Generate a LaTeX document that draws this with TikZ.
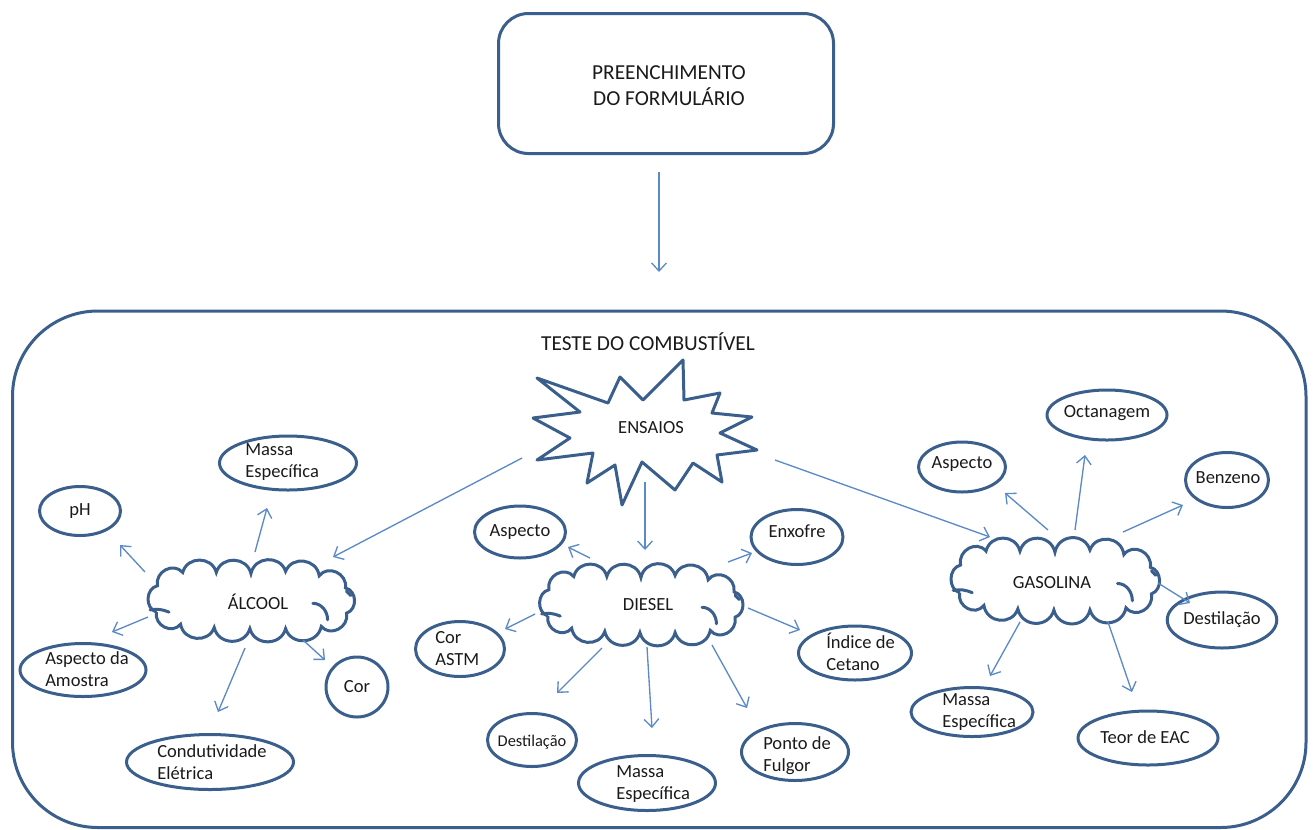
\documentclass[tikz,border=0pt]{standalone}
\usepackage{fontspec}
\setmainfont{Carlito}
\usetikzlibrary{shapes.geometric,arrows.meta}
\definecolor{boxblue}{HTML}{3B5F8C}
\definecolor{arrblue}{HTML}{5B8AC6}
\definecolor{ink}{HTML}{1A1A1A}

% cloud outline around the origin, about 210 x 76 units
\newcommand{\cloudoutline}{%
  \begin{scope}[xscale=1.05, yscale=1.1]
  \draw[outline, fill=white, line join=miter]
    (-91,11) to[puffto] (-90,-13) to[puffto] (-66,-25) to[puffto] (-34,-25)
    to[puffto] (-1,-24) to[puffto] (32,-26) to[puffto] (64,-22)
    to[puffto] (89,-11) to[puffto] (90,12) to[puffto] (66,24)
    to[puffto] (32,26) to[puffto] (-2,26) to[puffto] (-36,25)
    to[puffto] (-68,22) to[puffto] (-91,11);
  \draw[curl] (-97,9) to[bend left=15] (-79,11);
  \draw[curl] (58,3) .. controls (66,3) and (72,10) .. (72,18);
  \draw[curl] (90,-8) -- (94,-4);
  \end{scope}
}

\begin{document}
\begin{tikzpicture}[x=0.75pt,y=-0.75pt,
  outline/.style={draw=boxblue, line width=2.25pt},
  esize/.style n args={2}{minimum width=#1*0.75pt, minimum height=#2*0.75pt},
  lbl/.style={font=\fontsize{13.9}{16.5}\selectfont, text=ink, align=left, inner sep=0pt},
  bigtxt/.style={font=\fontsize{16}{19.3}\selectfont, text=ink, align=center, inner sep=0pt},
  bubble/.style={outline, ellipse, inner sep=0pt, lbl, align=center},
  puffto/.style={bend left=75, looseness=1.25},
  arr/.style={draw=arrblue, line width=1pt, -{Straight Barb[length=6pt,width=11pt]}},
  curl/.style={boxblue, line width=2.25pt, line cap=round},
]
\useasboundingbox (0,0) rectangle (1316,829);

% form header and main frame
\node[outline, rectangle, rounded corners=22.5pt, esize={335}{140}] (form) at (666,83.5) {};
\node[bigtxt] (formT) at (669,86) {PREENCHIMENTO\\DO FORMULÁRIO};
\coordinate (f1) at (659,172);
\coordinate (f2) at (659,272);
\draw[arr] (f1) -- (f2);

\node[outline, rectangle, rounded corners=64pt, esize={1293.5}{516.5}] (teste) at (659.25,569.25) {};
\node[bigtxt] (testeT) at (648,342) {TESTE DO COMBUSTÍVEL};

% burst with the tests
\draw[outline, fill=white, line join=round]
  (537,378) -- (608,403) -- (620,377) -- (643,400) -- (683,360) -- (684,400)
  -- (720,393) -- (712,413) -- (752,417) -- (720,433) -- (757,450) -- (717,455)
  -- (722,482) -- (693,463) -- (675,490) -- (642,462) -- (622,505) -- (615,465)
  -- (587,483) -- (593,453) -- (537,460) -- (570,438) -- (533,418) -- (580,412) -- cycle;
\node[lbl] (ens) at (651,428) {ENSAIOS};

% the three fuels
\begin{scope}[shift={(252,600)}] \cloudoutline \end{scope}
\node[lbl] (alc) at (258,602) {ÁLCOOL};
\begin{scope}[shift={(642,604)}, xscale=0.985] \cloudoutline \end{scope}
\node[lbl] (die) at (648,605) {DIESEL};
\begin{scope}[shift={(1056,580)}, xscale=1.01, yscale=1.05] \cloudoutline \end{scope}
\node[lbl] (gas) at (1052,583) {GASOLINA};

% alcohol tests
\node[bubble, esize={137}{54}] (aMassa) at (288,463) {};
\node[lbl, anchor=west] (aMassaT) at (245,462) {Massa\\Específica};
\node[bubble, esize={81}{49}] (aPh) at (80,511) {pH};
\node[bubble, esize={126}{53}] (aAsp) at (83,670) {};
\node[lbl, anchor=west] (aAspT) at (45,669) {Aspecto da\\Amostra};
\node[bubble, esize={62}{60}] (aCor) at (357,687) {Cor};
\node[bubble, esize={167}{55}] (aCond) at (210,762) {};
\node[lbl, anchor=west] (aCondT) at (157,762) {Condutividade\\Elétrica};

% diesel tests
\node[bubble, esize={91}{52}] (dAsp) at (520,532) {Aspecto};
\node[bubble, esize={92}{55}] (dEnx) at (797,537) {};
\node[lbl] (dEnxT) at (797,531) {Enxofre};
\node[bubble, esize={89}{55}] (dCor) at (460,649) {};
\node[lbl, anchor=west] (dCorT) at (435,649) {Cor\\ASTM};
\node[bubble, esize={89}{53}] (dDest) at (532,740) {};
\node[lbl, font=\fontsize{12.3}{14}\selectfont] (dDestT) at (532,742) {Destilação};
\node[bubble, esize={137}{55}] (dMassa) at (647,783) {};
\node[lbl, anchor=west] (dMassaT) at (616,784) {Massa\\Específica};
\node[bubble, esize={107}{57}] (dPonto) at (795,752) {};
\node[lbl, anchor=west] (dPontoT) at (763,756) {Ponto de\\Fulgor};
\node[bubble, esize={113}{54}] (dInd) at (855,653) {};
\node[lbl, anchor=west] (dIndT) at (826,652) {Índice de\\Cetano};

% petrol tests
\node[bubble, esize={87}{50}] (gAsp) at (962,467) {};
\node[lbl] (gAspT) at (962,464) {Aspecto};
\node[bubble, esize={120}{50}] (gOct) at (1107,415) {};
\node[lbl] (gOctT) at (1107,413) {Octanagem};
\node[bubble, esize={83}{55}] (gBenz) at (1227,480) {};
\node[lbl] (gBenzT) at (1228,478) {Benzeno};
\node[bubble, esize={92}{56}] (gDest) at (1222,620) {Destilação};
\node[bubble, esize={122}{49}] (gMassa) at (972,712) {};
\node[lbl, anchor=west] (gMassaT) at (942,712) {Massa\\Específica};
\node[bubble, esize={140}{54}] (gTeor) at (1148,738) {};
\node[lbl] (gTeorT) at (1145,737) {Teor de EAC};

% arrow ends
\coordinate (e1) at (522,458);  \coordinate (e2) at (333,557);
\coordinate (e3) at (775,460);  \coordinate (e4) at (990,537);
\coordinate (e5) at (645,482);  \coordinate (e6) at (645,550);

\coordinate (a1) at (255,552);  \coordinate (a1t) at (267,508);
\coordinate (a2) at (145,572);  \coordinate (a2t) at (120,545);
\coordinate (a3) at (148,617);  \coordinate (a3t) at (112,632);
\coordinate (a4) at (245,648);  \coordinate (a4t) at (218,712);
\coordinate (a5) at (303,640);  \coordinate (a5t) at (325,660);

\coordinate (d1) at (590,558);  \coordinate (d1t) at (568,547);
\coordinate (d2) at (728,562);  \coordinate (d2t) at (752,553);
\coordinate (d3) at (535,614);  \coordinate (d3t) at (505,629);
\coordinate (d4) at (602,648);  \coordinate (d4t) at (557,693);
\coordinate (d5) at (647,647);  \coordinate (d5t) at (652,728);
\coordinate (d6) at (712,645);  \coordinate (d6t) at (747,708);
\coordinate (d7) at (748,608);  \coordinate (d7t) at (800,630);

\coordinate (g1) at (1048,530); \coordinate (g1t) at (1005,493);
\coordinate (g2) at (1075,530); \coordinate (g2t) at (1085,455);
\coordinate (g3) at (1123,532); \coordinate (g3t) at (1183,505);
\coordinate (g4) at (1158,583); \coordinate (g4t) at (1190,603);
\coordinate (g5) at (1020,622); \coordinate (g5t) at (990,676);
\coordinate (g6) at (1108,622); \coordinate (g6t) at (1132,692);

\foreach \s/\t in {e1/e2,e3/e4,e5/e6,
                   a1/a1t,a2/a2t,a3/a3t,a4/a4t,a5/a5t,
                   d1/d1t,d2/d2t,d3/d3t,d4/d4t,d5/d5t,d6/d6t,d7/d7t,
                   g1/g1t,g2/g2t,g3/g3t,g4/g4t,g5/g5t,g6/g6t}
  \draw[arr] (\s) -- (\t);
\end{tikzpicture}
\end{document}
